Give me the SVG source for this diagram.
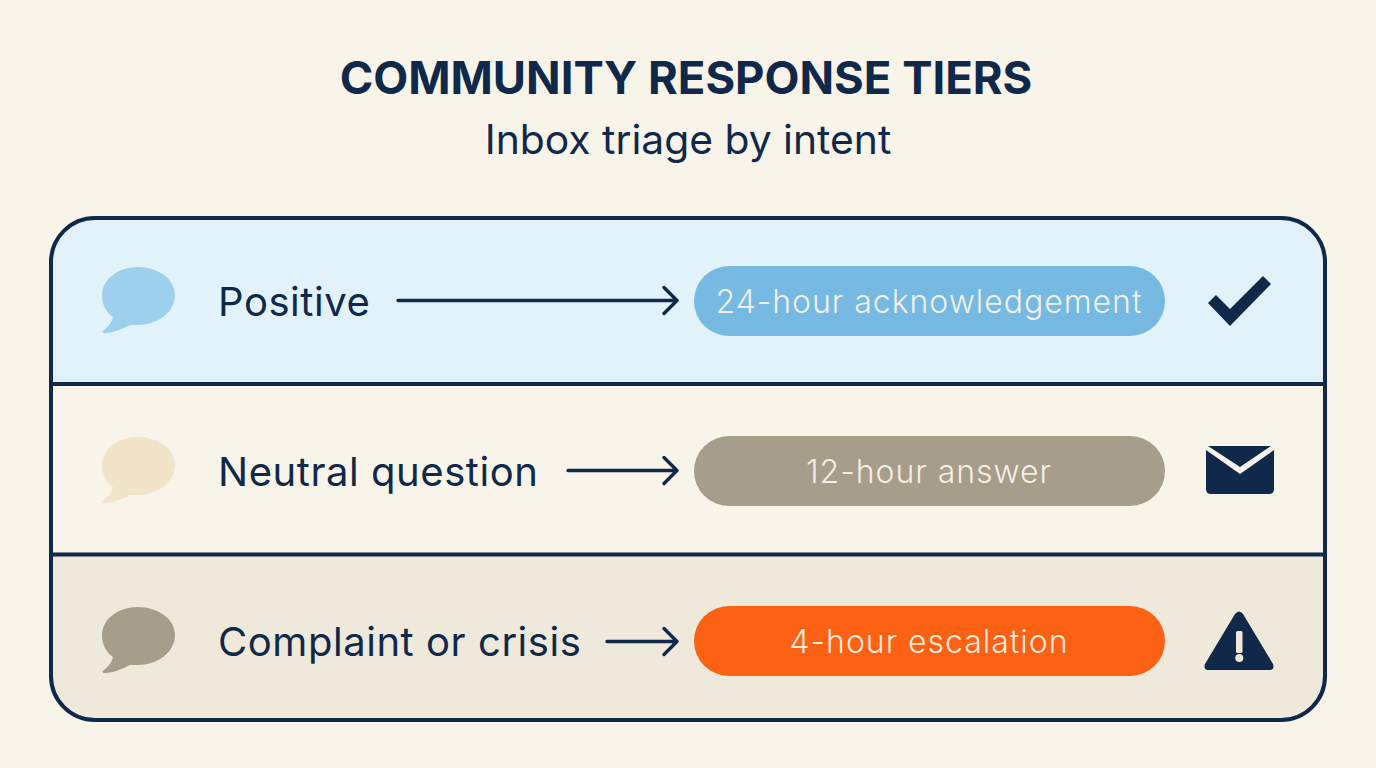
<svg xmlns="http://www.w3.org/2000/svg" width="1376" height="768" viewBox="0 0 1376 768">
<style>
text{font-family:Inter,"Noto Sans","Liberation Sans",sans-serif}
.title{font-size:45.400px;font-weight:650;fill:#10284a;text-anchor:middle}
.sub{font-size:40.800px;fill:#10284a;text-anchor:middle}
.lab{font-size:40px;fill:#10284a;letter-spacing:.55px}
.pill{font-size:32px;font-weight:350;fill:#faf5ea;fill-opacity:.95;text-anchor:middle;letter-spacing:.97px}
.navy{fill:#10284a}
.conn{fill:none;stroke:#10284a;stroke-width:3.4;stroke-linecap:round;stroke-linejoin:round}
.div{stroke:#10284a;stroke-width:4}
</style>
<defs>
<path id="bubble" d="M138 267C158 267 175 279 175 295C175 312 158 325 137 325C134 325 132 325 130 325C122 329 113 333 105 333C102 333 102 331 104 330C108 327 112 322 113 317C106 312 102 304 102 296C102 279 118 267 138 267Z"/>
<clipPath id="frame"><rect x="51" y="218" width="1274" height="502" rx="44"/></clipPath>
</defs>
<rect width="1376" height="768" fill="#f9f4e9"/>
<text class="title" x="686" y="94">COMMUNITY RESPONSE TIERS</text>
<text class="sub" x="688" y="154">Inbox triage by intent</text>
<g id="panel">
<g clip-path="url(#frame)">
<rect x="51" y="218" width="1274" height="166" fill="#e1f2fb"/>
<rect x="51" y="384" width="1274" height="170" fill="#f9f4e9"/>
<rect x="51" y="554" width="1274" height="166" fill="#efe9db"/>
</g>
<line class="div" x1="51" y1="384" x2="1325" y2="384"/>
<line class="div" x1="51" y1="554.500" x2="1325" y2="554.500"/>
<rect x="51" y="218" width="1274" height="502" rx="44" fill="none" stroke="#10284a" stroke-width="4"/>
</g>
<g id="tier-positive">
<use href="#bubble" fill="#9dd0ec"/>
<text class="lab" x="218" y="316">Positive</text>
<rect x="694" y="266" width="471" height="70" rx="35" fill="#76b9e2"/>
<text class="pill" x="929" y="313">24-hour acknowledgement</text>
<path class="navy" d="M1208 303L1216 295L1230 309L1263 276L1271 284L1230 326Z"/>
</g>
<g id="tier-neutral">
<use href="#bubble" y="170" fill="#f1e4c9"/>
<text class="lab" x="218" y="486">Neutral question</text>
<rect x="694" y="436" width="471" height="70" rx="35" fill="#a69d8b"/>
<text class="pill" x="929" y="483">12-hour answer</text>
<path class="navy" d="M1208 446H1271L1240 467ZM1206 450L1240 474L1274 450V489Q1274 494 1269 494H1211Q1206 494 1206 489Z"/>
</g>
<g id="tier-complaint">
<use href="#bubble" y="340" fill="#a69d8b"/>
<text class="lab" x="218" y="656">Complaint or crisis</text>
<rect x="694" y="606" width="471" height="70" rx="35" fill="#fc6114"/>
<text class="pill" x="929" y="653">4-hour escalation</text>
<path class="navy" d="M1235 614Q1239 609 1243 614L1273 664Q1275 670 1269 670H1209Q1203 670 1205 664Z"/>
<rect x="1236" y="631" width="6.500" height="22" rx="1.500" fill="#efe9db"/>
<circle cx="1239.300" cy="658" r="4" fill="#efe9db"/>
</g>
<g id="connectors">
<path class="conn" d="M398 300.500H677M664 287.500L677 300.500L664 313.500"/>
<path class="conn" d="M568 470.500H677M664 457.500L677 470.500L664 483.500"/>
<path class="conn" d="M607 641.500H677M664 628.500L677 641.500L664 654.500"/>
</g>
</svg>
